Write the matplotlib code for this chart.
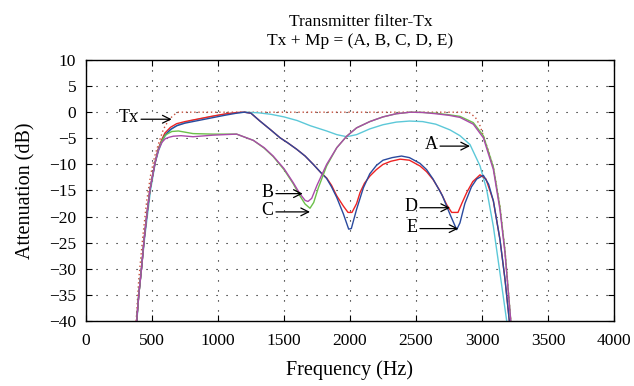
import matplotlib
matplotlib.use("Agg")
import matplotlib.pyplot as plt

plt.rcParams['font.family'] = ['Liberation Serif', 'DejaVu Serif']
plt.rcParams['font.size'] = 12

# Frequency points (Hz) and attenuation (dB)
tx_f = [380, 400, 430, 460, 490, 520, 550, 586, 620, 660, 700, 1500, 2900, 2950, 2985, 3010, 3050, 3086, 3136, 3174, 3218]
tx_db = [-40, -32, -24, -17, -12, -8.5, -6, -3.3, -1.8, -0.6, 0, 0, 0, -1.0, -2.6, -4.5, -7.5, -10.5, -18, -26.5, -40]

a_f = [386, 400, 422, 445, 465, 490, 525, 550, 580, 610, 650, 700, 800, 900, 1000, 1100, 1200, 1300, 1400, 1500,
       1600, 1700, 1823, 1900, 1975, 2050, 2150, 2250, 2350, 2450, 2550, 2650, 2758, 2833, 2909, 2985, 3035, 3086, 3136, 3187]
a_db = [-40, -35, -29.6, -24, -19.9, -14.8, -9.7, -7.4, -5.4, -4.2, -3.2, -2.4, -1.6, -1.1, -0.6, -0.2, 0, -0.1, -0.4, -0.9,
        -1.6, -2.6, -3.6, -4.3, -4.7, -4.3, -3.2, -2.4, -1.9, -1.7, -1.8, -2.3, -3.4, -4.5, -6.2, -10.3, -14.8, -21.9, -30.8, -40]

b_f = [384, 400, 422, 440, 460, 485, 523, 548, 575, 600, 630, 662, 720, 811, 962, 1141, 1268, 1350, 1418, 1500,
       1570, 1620, 1660, 1682, 1710, 1750, 1823, 1900, 1975, 2050, 2150, 2250, 2350, 2455, 2550, 2650, 2750, 2833,
       2934, 3010, 3086, 3136, 3174, 3218]
b_db = [-40, -35, -29.6, -24.5, -19.9, -14.8, -9.7, -7.3, -5.8, -5.1, -4.8, -4.6, -4.5, -4.7, -4.4, -4.2, -5.4, -6.8, -8.4, -10.8,
        -13.5, -15.6, -16.9, -17.1, -16.5, -14.0, -10.0, -6.8, -4.6, -3.0, -1.8, -0.9, -0.3, 0, -0.05, -0.3, -0.6, -1.0,
        -2.3, -4.9, -11, -18.7, -27, -40]

c_f = [384, 400, 422, 440, 460, 485, 523, 548, 575, 600, 650, 700, 811, 962, 1141, 1268, 1350, 1418, 1500,
       1570, 1620, 1660, 1697, 1725, 1760, 1823, 1900, 1975, 2050, 2150, 2250, 2350, 2455, 2550, 2650, 2750, 2833,
       2934, 3010, 3086, 3136, 3174, 3218]
c_db = [-40, -35, -29.6, -24.5, -19.9, -14.8, -9.7, -7.2, -5.5, -4.4, -3.7, -3.6, -4.1, -4.2, -4.2, -5.4, -6.9, -8.5, -11.0,
        -13.7, -16.0, -17.6, -18.4, -17.3, -14.5, -10.3, -6.8, -4.6, -3.0, -1.8, -0.9, -0.3, 0, -0.05, -0.2, -0.5, -0.8,
        -2.0, -4.5, -10.5, -18.2, -26.5, -40]

d_f = [384, 400, 422, 440, 460, 485, 523, 548, 575, 598, 640, 687, 750, 850, 950, 1050, 1150, 1200, 1250, 1318,
       1400, 1470, 1530, 1596, 1660, 1722, 1780, 1823, 1860, 1899, 1950, 1985, 2015, 2050, 2076, 2110, 2152, 2200,
       2250, 2310, 2380, 2450, 2530, 2580, 2629, 2680, 2732, 2770, 2818, 2850, 2884, 2930, 2985, 3030, 3086, 3136, 3174, 3207]
d_db = [-40, -35, -29.6, -24.5, -19.9, -14.8, -9.7, -7.0, -5.2, -4.0, -2.9, -2.2, -1.8, -1.3, -0.8, -0.35, -0.05, 0, -0.2, -1.7,
        -3.4, -4.9, -5.9, -7.1, -8.4, -10.0, -11.6, -12.6, -14.0, -16.0, -18.0, -19.2, -19.2, -17.5, -15.4, -13.6, -12.2, -11.0,
        -10.0, -9.4, -9.0, -9.2, -10.3, -11.4, -12.9, -15.0, -17.7, -19.2, -19.2, -17.3, -15.4, -13.3, -12.0, -12.8, -17.0, -24.4, -32, -40]

e_f = [384, 400, 422, 440, 460, 485, 523, 548, 575, 598, 640, 687, 750, 850, 950, 1050, 1150, 1200, 1250, 1318,
       1400, 1470, 1530, 1596, 1660, 1722, 1780, 1823, 1860, 1899, 1950, 1990, 2010, 2050, 2101, 2150, 2200,
       2250, 2320, 2390, 2450, 2530, 2580, 2629, 2700, 2758, 2808, 2833, 2870, 2920, 2960, 3010, 3050, 3086, 3136, 3174, 3207]
e_db = [-40, -35, -29.6, -24.5, -19.9, -14.8, -9.7, -7.2, -5.5, -4.4, -3.3, -2.6, -2.1, -1.6, -1.1, -0.6, -0.15, 0, -0.2, -1.7,
        -3.4, -4.9, -5.9, -7.1, -8.4, -10.0, -11.6, -12.7, -14.3, -16.3, -19.5, -22.4, -22.3, -18.6, -14.5, -11.8, -10.2,
        -9.2, -8.7, -8.4, -8.7, -9.8, -11.0, -12.8, -16.0, -19.6, -22.5, -21.2, -17.5, -14.3, -12.8, -12.1, -13.8, -17.0, -24.4, -32, -40]

# annotation labels: (label, tail freq, tip freq, dB)
labels = ['Tx', 'A', 'B', 'C', 'D', 'E']
lab_tail = [417, 2682, 1439, 1439, 2530, 2530]
lab_tip = [649, 2909, 1642, 1697, 2758, 2821]
lab_db = [-1.35, -6.5, -15.6, -19.1, -18.3, -22.3]

fig = plt.figure(figsize=(6.34, 3.86), dpi=100)
ax = fig.add_axes([0.1356, 0.1684, 0.8329, 0.6762])

ax.plot(tx_f, tx_db, linestyle=(0, (1, 2)), color='#c8503c', linewidth=1.0)
ax.plot(a_f, a_db, color='#5cc8d8', linewidth=1.0)
ax.plot(d_f, d_db, color='#ee2222', linewidth=1.0)
ax.plot(e_f, e_db, color='#2a4a9e', linewidth=1.0)
ax.plot(c_f, c_db, color='#6cc04a', linewidth=1.0)
ax.plot(b_f, b_db, color='#aa4aaa', linewidth=1.0)

for lab, t0, t1, yy in zip(labels, lab_tail, lab_tip, lab_db):
    ax.annotate('', xy=(t1, yy), xytext=(t0, yy),
                arrowprops=dict(arrowstyle='->', color='black', lw=0.9,
                                shrinkA=0, shrinkB=0, mutation_scale=14))
    ax.text(t0 - 20, yy + 0.3, lab, ha='right', va='center', fontsize=13)

ax.set_xlim(0, 4000)
ax.set_ylim(-40, 10)
ax.set_xticks(range(0, 4001, 500))
ax.set_yticks(range(-40, 11, 5))
ax.grid(True, color='black', linestyle=(0, (1, 8)), linewidth=0.8)
ax.tick_params(direction='in', top=True, right=True, length=4, labelsize=12.5)
ax.tick_params(axis='x', pad=9)
ax.tick_params(axis='y', pad=7)
for s in ax.spines.values():
    s.set_linewidth(1.0)

ax.set_xlabel('Frequency (Hz)', fontsize=14.5, labelpad=8)
ax.set_ylabel('Attenuation (dB)', fontsize=14.5, labelpad=10)
ax.set_title('Transmitter filter-Tx\nTx + Mp = (A, B, C, D, E)', fontsize=12.5, pad=11,
             linespacing=1.25, x=0.52)

fig.savefig('out.png', dpi=100)
